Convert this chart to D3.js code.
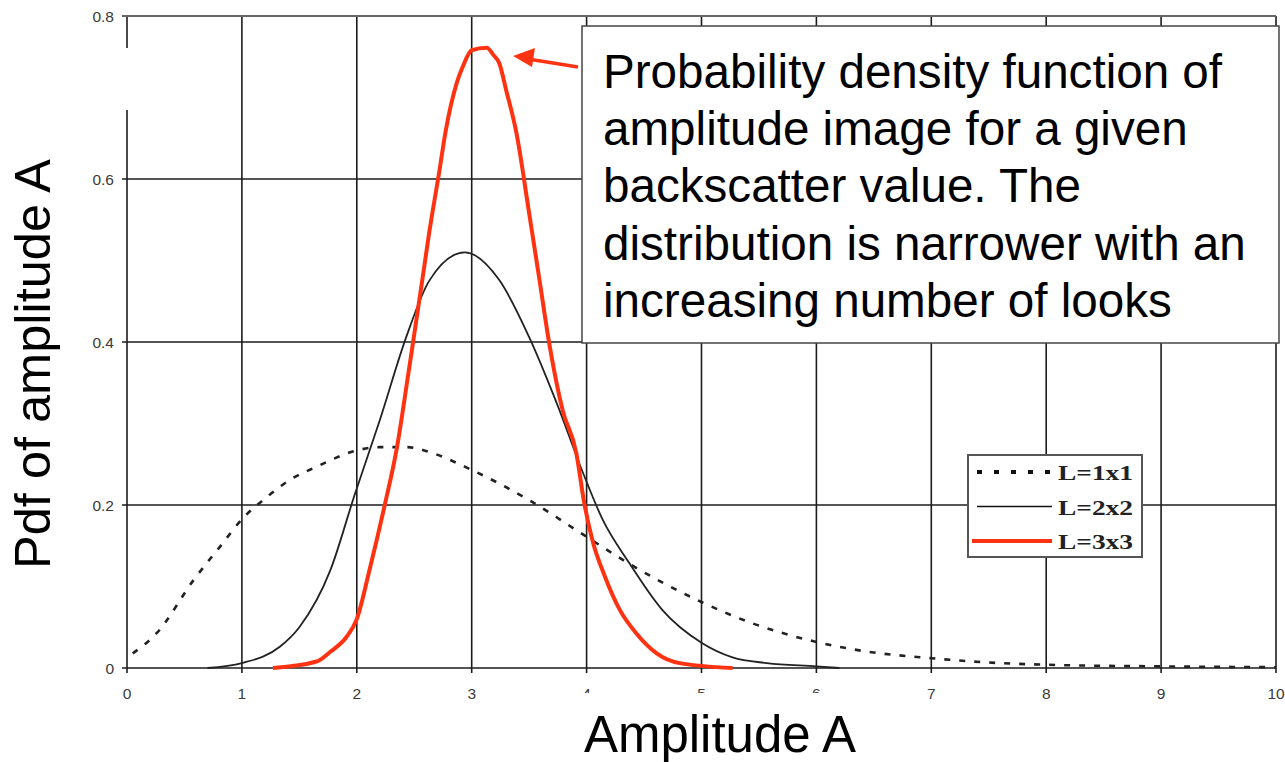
<!DOCTYPE html>
<html>
<head>
<meta charset="utf-8">
<script src="https://cdn.jsdelivr.net/npm/d3@7"></script>
<style>
  body { margin: 0; background: #fff; }
  svg { display: block; font-family: "Liberation Sans", Arial, sans-serif; }
</style>
</head>
<body>
<div class="chart-container"></div>
<script>
// values
const ampL1 = [0.05, 0.26, 0.58, 0.81, 1.01, 1.21, 1.42, 1.65, 2.0, 2.2, 2.44, 2.63, 3.0, 3.5, 4.0, 4.37, 5.0, 5.42, 6.0, 6.4, 7.0, 7.6, 8.0, 9.0, 10.0];
const pdfL1 = [0.018, 0.043, 0.108, 0.149, 0.184, 0.209, 0.231, 0.247, 0.267, 0.271, 0.271, 0.265, 0.243, 0.206, 0.161, 0.128, 0.081, 0.056, 0.032, 0.021, 0.012, 0.006, 0.004, 0.002, 0.001];

const ampL2 = [0.7, 1.0, 1.33, 1.5, 1.77, 1.98, 2.2, 2.43, 2.63, 2.94, 3.24, 3.5, 3.74, 3.97, 4.14, 4.37, 4.66, 5.0, 5.27, 5.57, 6.0, 6.2];
const pdfL2 = [0, 0.006, 0.026, 0.05, 0.12, 0.212, 0.304, 0.406, 0.475, 0.51, 0.476, 0.406, 0.325, 0.239, 0.182, 0.129, 0.071, 0.031, 0.013, 0.006, 0.002, 0];

const ampL3 = [1.27, 1.65, 1.77, 1.91, 2.0, 2.11, 2.24, 2.35, 2.44, 2.49, 2.57, 2.63, 2.72, 2.77, 2.87, 2.92, 3.0, 3.13, 3.19, 3.24, 3.3, 3.39, 3.5, 3.59, 3.68, 3.79, 3.91, 3.98, 4.05, 4.16, 4.29, 4.43, 4.61, 4.81, 5.27];
const pdfL3 = [0, 0.008, 0.02, 0.038, 0.06, 0.12, 0.198, 0.271, 0.353, 0.40, 0.476, 0.534, 0.611, 0.656, 0.718, 0.737, 0.758, 0.761, 0.752, 0.742, 0.709, 0.656, 0.558, 0.476, 0.394, 0.317, 0.264, 0.202, 0.157, 0.112, 0.071, 0.043, 0.018, 0.006, 0];

const xTicks = [0, 1, 2, 3, 4, 5, 6, 7, 8, 9, 10];
const yTicks = [0, 0.2, 0.4, 0.6, 0.8];
const yTickLabels = ["0", "0.2", "0.4", "0.6", "0.8"];
const legendLabels = ["L=1x1", "L=2x2", "L=3x3"];
const noteLines = [
  "Probability density function of",
  "amplitude image for a given",
  "backscatter value. The",
  "distribution is narrower with an",
  "increasing number of looks"
];

const width = 1285, height = 762;
const red = "#ff3312";

const x = d3.scaleLinear().domain([0, 10]).range([127, 1276]);
const y = d3.scaleLinear().domain([0, 0.8]).range([668, 16]);

const svg = d3.select(".chart-container").append("svg")
  .attr("width", width)
  .attr("height", height)
  .attr("viewBox", [0, 0, width, height]);

// grid
svg.append("g").selectAll("line")
  .data(xTicks)
  .join("line")
  .attr("x1", d => x(d)).attr("x2", d => x(d))
  .attr("y1", y(0.8)).attr("y2", y(0) + 5)
  .attr("stroke", "#1c1c1c").attr("stroke-width", 1.6);

svg.append("g").selectAll("line")
  .data(yTicks)
  .join("line")
  .attr("x1", x(0) - 5).attr("x2", x(10))
  .attr("y1", d => y(d)).attr("y2", d => y(d))
  .attr("stroke", d => d === 0.8 ? "#666" : "#1c1c1c")
  .attr("stroke-width", d => d === 0.8 ? 2.2 : 1.6);

// gap in the left axis near the top
svg.append("rect").attr("x", 115).attr("y", 48).attr("width", 20).attr("height", 62).attr("fill", "#fff");

// tick labels
svg.append("g").selectAll("text")
  .data(yTicks)
  .join("text")
  .attr("x", 114).attr("y", d => y(d) + 5.5)
  .attr("text-anchor", "end")
  .attr("font-size", 15.5).attr("fill", "#3a3a3a")
  .text((d, i) => yTickLabels[i]);

svg.append("g").selectAll("text")
  .data(xTicks)
  .join("text")
  .attr("x", d => x(d)).attr("y", 699)
  .attr("text-anchor", "middle")
  .attr("font-size", 15.5).attr("fill", "#3a3a3a")
  .text(d => d);

// curves
const line = (xs, ys) => d3.line()
  .x((d, i) => x(xs[i]))
  .y((d, i) => y(ys[i]))
  .curve(d3.curveMonotoneX)(xs);

svg.append("path")
  .attr("d", line(ampL1, pdfL1))
  .attr("fill", "none").attr("stroke", "#222")
  .attr("stroke-width", 2.6).attr("stroke-dasharray", "6,9");

svg.append("path")
  .attr("d", line(ampL2, pdfL2))
  .attr("fill", "none").attr("stroke", "#222").attr("stroke-width", 1.8);

svg.append("path")
  .attr("d", line(ampL3, pdfL3))
  .attr("fill", "none").attr("stroke", red).attr("stroke-width", 4)
  .attr("stroke-linejoin", "round");

// legend
const legend = svg.append("g").attr("transform", "translate(968,455)");
legend.append("rect").attr("width", 174).attr("height", 102)
  .attr("fill", "#fff").attr("stroke", "#555").attr("stroke-width", 2);
const rows = legend.selectAll("g")
  .data(legendLabels)
  .join("g")
  .attr("transform", (d, i) => `translate(0,${17 + i * 34.5})`);
rows.append("line")
  .attr("x1", (d, i) => i === 2 ? 4 : 9).attr("x2", 84)
  .attr("stroke", (d, i) => i === 2 ? red : "#111")
  .attr("stroke-width", (d, i) => [4, 1.5, 4][i])
  .attr("stroke-dasharray", (d, i) => i === 0 ? "5,12" : null);
rows.append("text")
  .attr("x", 90).attr("y", 8)
  .attr("font-family", "'Liberation Serif', 'Times New Roman', serif")
  .attr("font-weight", "bold").attr("font-size", 21)
  .attr("textLength", 75).attr("lengthAdjust", "spacingAndGlyphs")
  .attr("fill", "#222")
  .text(d => d);

// annotation box and arrow
svg.append("rect").attr("x", 582).attr("y", 26).attr("width", 697).attr("height", 317)
  .attr("fill", "#fff").attr("stroke", "#444").attr("stroke-width", 1.5);
svg.append("g").selectAll("text")
  .data(noteLines)
  .join("text")
  .attr("x", 603).attr("y", (d, i) => 88 + i * 57.2)
  .attr("font-size", 47.6).attr("fill", "#000")
  .text(d => d);

svg.append("line").attr("x1", 578).attr("y1", 67).attr("x2", 528).attr("y2", 59)
  .attr("stroke", red).attr("stroke-width", 3.5);
svg.append("path").attr("d", "M513,56 L535,48 L532,67 Z").attr("fill", red);

// axis titles
svg.append("rect").attr("x", 560).attr("y", 693).attr("width", 325).attr("height", 69).attr("fill", "#fff");
svg.append("text")
  .attr("x", 720).attr("y", 752)
  .attr("text-anchor", "middle").attr("font-size", 51).attr("fill", "#000")
  .text("Amplitude A");

svg.append("text")
  .attr("transform", "translate(50,364) rotate(-90)")
  .attr("text-anchor", "middle").attr("font-size", 50.5).attr("fill", "#000")
  .text("Pdf of amplitude A");
</script>
</body>
</html>
